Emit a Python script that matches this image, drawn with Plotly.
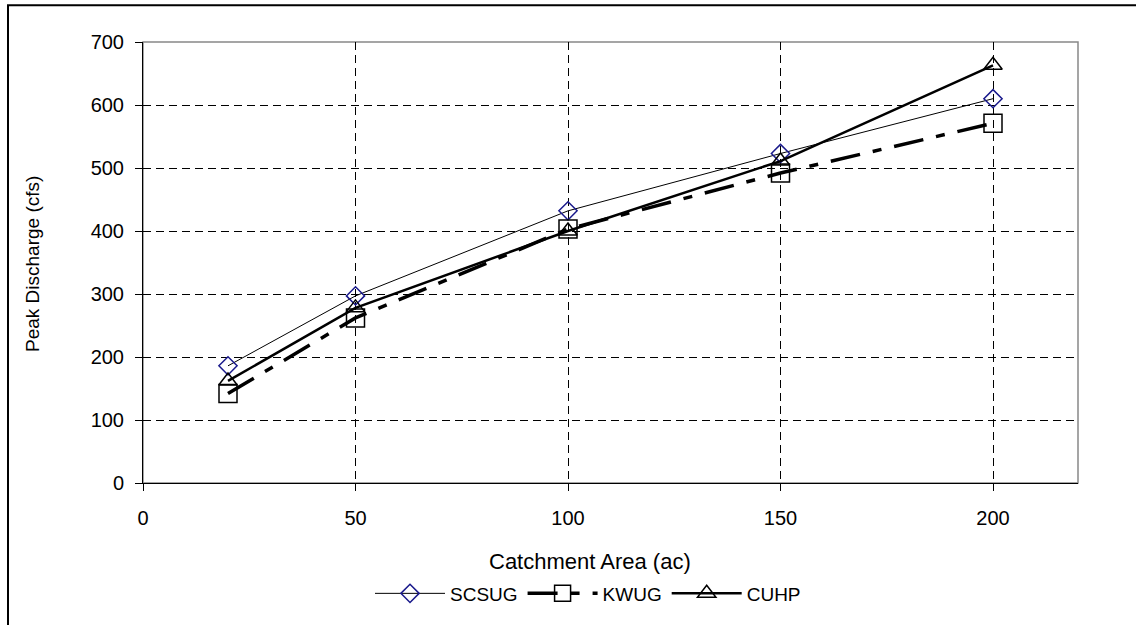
import plotly.graph_objects as go

area = [20, 50, 100, 150, 200]
scsug = [186, 297, 432, 523, 610]
kwug = [142, 262, 403, 492, 571]
cuhp = [162, 278, 400, 511, 663]
x_ticks = [0, 50, 100, 150, 200]
y_ticks = [0, 100, 200, 300, 400, 500, 600, 700]

FONT = "Liberation Sans, Arial, sans-serif"

fig = go.Figure()
fig.add_trace(go.Scatter(
    x=area, y=scsug, name="SCSUG", mode="lines+markers",
    line=dict(color="black", width=1),
    marker=dict(symbol="diamond-open", size=14, color="#1a1a8c", line=dict(width=1.5, color="#1a1a8c")),
))
fig.add_trace(go.Scatter(
    x=area, y=kwug, name="KWUG", mode="lines+markers",
    line=dict(color="black", width=3.5, dash="30px,13px,9px,13px"),
    marker=dict(symbol="square-open", size=18, color="black", line=dict(width=1.5, color="black")),
))
fig.add_trace(go.Scatter(
    x=area, y=cuhp, name="CUHP", mode="lines+markers",
    line=dict(color="black", width=2.5),
    marker=dict(symbol="triangle-up-open", size=16, color="black", line=dict(width=1.5, color="black")),
))

W, H = 1136, 625
L, R, T, B = 143, 1078, 42, 485
pw, ph = R - L, B - T

def px(x):
    return (x - L) / pw

def py(y):
    return (B - y) / ph

fig.update_layout(
    width=W, height=H,
    margin=dict(l=L, r=W - R, t=T, b=H - B),
    paper_bgcolor="white", plot_bgcolor="white",
    font=dict(family=FONT, size=20, color="black"),
    showlegend=True,
    legend=dict(
        orientation="h", x=px(588), xanchor="center", y=py(596), yanchor="middle",
        font=dict(size=19, family=FONT), itemwidth=70, bgcolor="rgba(0,0,0,0)",
        tracegroupgap=0,
    ),
    xaxis=dict(
        range=[0, 220], tickvals=x_ticks, showgrid=True, gridcolor="black", gridwidth=1,
        griddash="8px,5px", showline=True, linecolor="black", linewidth=1,
        ticks="outside", ticklen=7, tickcolor="black", zeroline=False,
        tickfont=dict(size=20), ticklabelstandoff=10,
    ),
    yaxis=dict(
        range=[0, 700], tickvals=y_ticks, showgrid=True, gridcolor="black", gridwidth=1,
        griddash="8px,5px", showline=True, linecolor="black", linewidth=1,
        ticks="outside", ticklen=7, tickcolor="black", zeroline=False,
        tickfont=dict(size=20), ticklabelstandoff=7,
    ),
    shapes=[
        dict(type="rect", xref="paper", yref="paper", x0=0, x1=1, y0=0, y1=1,
             line=dict(color="#888888", width=1.5), layer="below"),
        dict(type="rect", xref="paper", yref="paper", x0=px(8), x1=px(1200), y0=py(700), y1=py(5),
             line=dict(color="black", width=2)),
    ],
    annotations=[
        dict(text="Catchment Area (ac)", xref="paper", yref="paper", x=px(590), y=py(564),
             xanchor="center", yanchor="middle", showarrow=False, font=dict(size=22)),
        dict(text="Peak Discharge (cfs)", xref="paper", yref="paper", x=px(33), y=py(265),
             xanchor="center", yanchor="middle", showarrow=False, textangle=-90, font=dict(size=19)),
    ],
)

fig.write_html("out.html")
